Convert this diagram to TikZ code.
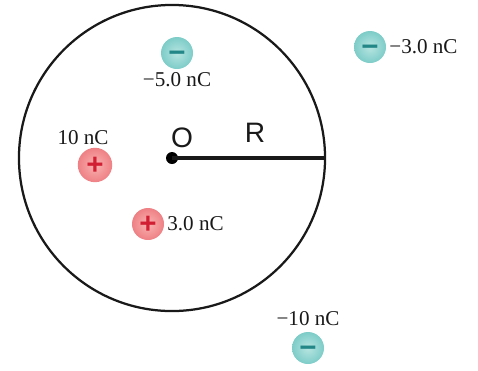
\documentclass[tikz,border=0pt]{standalone}
\usepackage{fontspec}
\setmainfont{Liberation Serif}
\setsansfont{Liberation Sans}
\usepackage{xcolor}
\usepackage{tikz}
\usetikzlibrary{positioning,calc}
\definecolor{clrPos}{RGB}{248,160,160}
\definecolor{clrPosE}{RGB}{238,128,132}
\definecolor{clrPosS}{RGB}{210,30,50}
\definecolor{clrNeg}{RGB}{165,222,218}
\definecolor{clrNegE}{RGB}{125,204,200}
\definecolor{clrNegS}{RGB}{35,135,135}
\definecolor{clrInk}{RGB}{25,25,25}
\tikzset{
  charge/.style={circle,minimum size=0.8cm,inner sep=0pt,
    text height=14pt,text depth=0pt,
    font=\sffamily\bfseries\fontsize{21}{21}\selectfont},
  poscharge/.style={charge,inner color=clrPos!80!white,outer color=clrPosE,text=clrPosS},
  negcharge/.style={charge,inner color=clrNeg!80!white,outer color=clrNegE,text=clrNegS},
  qlabel/.style={font=\fontsize{15}{16}\selectfont,text=clrInk,inner sep=1pt},
  letter/.style={font=\sffamily\fontsize{20}{20}\selectfont,text=clrInk,inner sep=1pt}
}
\begin{document}
\begin{tikzpicture}[x=0.025cm,y=-0.025cm]
  \useasboundingbox (0,0) rectangle (478,370);

  % the sphere and its radius
  \node[circle,draw=clrInk,line width=1.6pt,minimum size=7.65cm,inner sep=0pt]
    (sphere) at (172,158) {};
  \node[circle,fill=black,minimum size=0.3cm,inner sep=0pt] (o) at (172,158) {};
  \draw[line width=2.4pt,clrInk] (o.center) -- (sphere.east);
  \node[letter,above right=3pt and -5pt of o] (olabel) {O};
  \node[letter] (rlabel) at (255,133) {R};

  % charges inside
  \node[negcharge] (q5) at (177,53) {−};
  \node[qlabel,below=1pt of q5] (l5) {−5.0 nC};
  \node[poscharge,minimum size=0.86cm] (q10) at (95,165) {+};
  \node[qlabel,above=1pt of q10,xshift=-0.3cm] (l10) {10 nC};
  \node[poscharge] (q3) at (148,224) {+};
  \node[qlabel,right=1pt of q3] (l3) {3.0 nC};

  % charges outside
  \node[negcharge] (qm3) at (370,47) {−};
  \node[qlabel,right=1pt of qm3] (lm3) {−3.0 nC};
  \node[negcharge] (qm10) at (308,348) {−};
  \node[qlabel,above=3pt of qm10] (lm10) {−10 nC};
\end{tikzpicture}
\end{document}
